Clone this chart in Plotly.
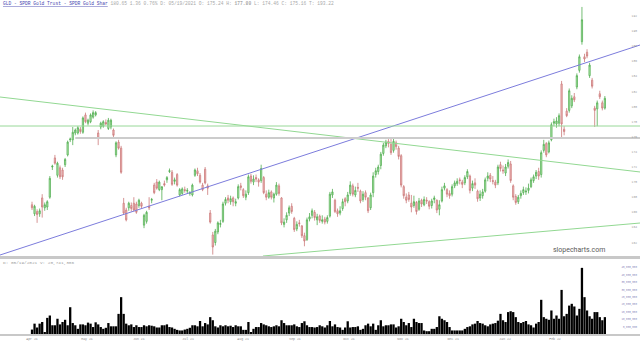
import plotly.graph_objects as go

TITLE = "GLD - SPDR Gold Trust - SPDR Gold Shar"
QUOTE = "180.65 1.36 0.76% D: 05/19/2021 O: 175.24 H: <b>177.80</b> L: 174.46 C: 175.16 T: 193.22"
VOL_HEADER = "D: 05/19/2021 V: 20,741,306"
WATERMARK = "slopecharts.com"

open_ = [
    167.0, 165.8, 166.1, 165.8, 167.9, 166.6, 166.7, 168.0, 172.0, 173.2,
    170.9, 171.9, 171.6, 172.3, 173.6, 175.6, 175.6, 176.5, 176.5, 177.0,
    176.6, 178.9, 177.8, 178.0, 178.6, 178.9, 176.5, 177.3, 177.4, 177.9,
    177.1, 177.3, 176.9, 173.6, 175.3, 174.5, 167.2, 166.3, 166.6, 166.9,
    167.2, 167.1, 166.9, 167.2, 164.3, 164.8, 166.8, 167.6, 169.6, 170.0,
    169.0, 169.0, 169.8, 170.3, 171.4, 171.3, 170.1, 171.0, 168.3, 168.5,
    169.0, 168.8, 168.5, 168.3, 170.9, 171.5, 170.9, 169.6, 171.7, 169.5,
    165.9, 163.0, 162.0, 163.4, 164.4, 164.8, 167.2, 167.9, 167.4, 167.9,
    167.2, 167.9, 169.5, 169.0, 168.0, 168.6, 170.8, 170.0, 170.6, 170.3,
    170.2, 170.6, 168.4, 168.0, 168.7, 167.9, 168.4, 169.5, 167.9, 164.4,
    165.0, 165.9, 166.8, 165.2, 163.8, 164.6, 164.2, 162.9, 162.4, 165.1,
    165.6, 166.0, 165.0, 165.5, 164.8, 165.1, 164.8, 165.5, 168.3, 167.6,
    166.2, 165.9, 166.5, 167.8, 167.5, 168.5, 169.5, 168.3, 169.3, 168.8,
    167.7, 168.6, 167.9, 166.6, 168.6, 171.0, 171.4, 172.2, 173.8, 174.8,
    175.4, 175.0, 174.2, 175.2, 174.5, 173.5, 169.4, 168.0, 168.3, 167.2,
    166.9, 167.3, 166.4, 167.6, 167.0, 167.6, 167.4, 166.9, 167.7, 167.6,
    166.4, 167.5, 169.2, 169.0, 168.5, 168.4, 169.5, 169.8, 170.3, 170.0,
    169.9, 170.7, 170.8, 169.2, 169.9, 168.8, 167.9, 168.2, 168.8, 170.5,
    170.9, 170.2, 170.0, 169.9, 172.3, 171.6, 171.2, 172.1, 172.4, 169.5,
    168.1, 167.4, 168.2, 168.6, 168.7, 168.9, 169.4, 170.2, 170.8, 171.4,
    171.0, 174.2, 175.1, 174.0, 175.6, 177.8, 177.7, 177.8, 183.0, 177.0,
    179.4, 179.5, 180.1, 181.3, 182.6, 184.8, 188.6, 186.6, 187.2, 184.1,
    183.5, 179.8, 179.7, 181.7, 180.5, 179.8,
]
high = [
    167.4, 167.0, 166.4, 166.5, 168.4, 167.3, 167.6, 170.8, 172.3, 173.6,
    172.7, 172.2, 171.9, 173.2, 175.5, 175.9, 177.3, 177.1, 177.4, 177.3,
    178.7, 179.2, 178.4, 179.1, 179.5, 179.4, 176.9, 178.0, 178.2, 178.3,
    178.5, 178.4, 177.1, 175.4, 175.6, 174.8, 167.9, 166.6, 167.4, 167.3,
    168.0, 167.4, 167.8, 167.4, 165.8, 166.2, 168.0, 167.9, 169.9, 170.4,
    170.2, 169.4, 170.2, 170.8, 171.8, 171.6, 170.6, 171.2, 169.2, 169.3,
    169.4, 169.2, 168.8, 169.8, 171.8, 171.9, 171.2, 169.9, 172.0, 169.8,
    166.3, 163.4, 163.8, 164.8, 165.0, 167.4, 168.0, 168.3, 168.2, 168.1,
    167.8, 169.7, 169.9, 169.2, 168.9, 171.0, 171.1, 170.9, 171.0, 170.5,
    172.3, 170.8, 168.9, 169.0, 168.9, 168.6, 170.0, 169.8, 168.0, 165.2,
    166.0, 166.9, 167.2, 165.4, 164.8, 165.0, 164.3, 163.3, 165.3, 165.9,
    166.5, 166.3, 165.8, 165.7, 165.6, 165.4, 165.6, 168.7, 169.1, 167.8,
    166.5, 166.8, 167.8, 168.0, 168.7, 170.1, 169.8, 169.4, 169.9, 169.0,
    168.8, 168.9, 168.0, 168.6, 171.3, 171.9, 172.3, 174.0, 175.2, 175.6,
    175.7, 175.9, 175.8, 175.5, 174.8, 173.7, 169.6, 168.5, 168.7, 168.3,
    168.2, 167.5, 167.9, 167.8, 168.1, 168.0, 167.6, 167.8, 168.2, 167.7,
    167.6, 169.4, 169.9, 169.2, 168.9, 169.7, 170.2, 170.5, 170.6, 170.3,
    170.9, 171.7, 171.0, 170.2, 170.5, 169.0, 168.9, 169.1, 170.6, 171.3,
    171.2, 170.8, 170.3, 172.3, 172.7, 172.2, 172.4, 173.0, 172.8, 169.7,
    168.4, 168.3, 168.9, 169.4, 169.3, 169.8, 170.6, 171.0, 171.6, 171.9,
    174.2, 175.6, 175.3, 175.5, 177.9, 178.4, 178.6, 179.1, 183.4, 177.4,
    179.8, 182.4, 181.5, 181.8, 184.4, 186.9, 193.2, 187.0, 187.6, 185.8,
    183.8, 180.1, 180.8, 182.1, 180.8, 181.4,
]
low = [
    166.3, 165.5, 164.6, 165.4, 165.3, 166.2, 166.3, 167.8, 171.6, 172.3,
    170.6, 170.4, 170.3, 172.0, 173.4, 175.3, 174.9, 176.2, 176.3, 176.4,
    176.4, 177.8, 177.5, 177.8, 178.4, 178.7, 174.9, 177.0, 177.2, 177.5,
    176.9, 177.0, 175.9, 173.3, 174.3, 171.1, 165.7, 164.8, 166.2, 166.1,
    166.1, 165.8, 166.6, 166.5, 163.9, 164.5, 166.3, 167.2, 168.4, 169.0,
    168.8, 167.6, 169.4, 169.9, 171.2, 169.5, 169.7, 169.4, 168.1, 168.3,
    168.6, 168.5, 168.2, 168.1, 170.7, 170.8, 169.8, 168.8, 169.7, 168.3,
    164.5, 160.4, 161.6, 163.1, 164.0, 164.6, 166.9, 167.2, 167.0, 166.8,
    166.8, 167.7, 168.9, 167.9, 167.6, 168.3, 169.8, 169.6, 170.0, 169.4,
    169.9, 168.4, 167.6, 167.8, 167.7, 167.3, 168.2, 168.2, 164.3, 164.0,
    164.6, 165.5, 165.8, 163.4, 163.5, 164.1, 162.6, 161.5, 162.2, 164.8,
    165.2, 164.9, 164.3, 164.6, 164.5, 164.4, 164.5, 165.3, 167.9, 165.9,
    165.4, 165.6, 166.2, 166.8, 167.2, 168.2, 168.1, 168.0, 168.7, 167.2,
    167.4, 167.6, 165.9, 166.3, 168.0, 170.6, 171.0, 171.7, 173.5, 174.5,
    174.6, 173.6, 173.9, 174.3, 173.0, 169.3, 167.8, 167.2, 167.4, 166.0,
    166.6, 165.7, 166.2, 166.7, 166.8, 167.1, 166.4, 166.5, 167.2, 165.9,
    165.6, 167.3, 168.9, 168.0, 167.8, 168.1, 169.2, 169.5, 169.7, 169.2,
    169.6, 170.4, 168.5, 168.8, 169.1, 167.4, 167.5, 167.8, 168.6, 170.1,
    170.0, 169.7, 169.2, 169.6, 171.4, 171.1, 170.8, 171.8, 169.9, 167.6,
    167.0, 167.1, 167.8, 168.3, 168.3, 168.5, 169.2, 169.9, 170.4, 170.3,
    170.6, 173.9, 173.3, 173.8, 175.4, 177.4, 177.2, 177.4, 175.8, 176.2,
    178.6, 179.2, 179.8, 180.6, 182.3, 184.5, 188.2, 185.9, 186.4, 183.8,
    182.4, 177.3, 177.4, 181.0, 179.5, 179.6,
]
close = [
    166.6, 166.8, 165.7, 166.2, 166.7, 167.0, 167.4, 170.5, 172.1, 172.5,
    172.5, 170.7, 170.7, 173.0, 175.3, 175.7, 176.6, 176.9, 177.2, 176.7,
    178.5, 178.0, 178.2, 178.9, 179.2, 179.2, 175.8, 177.8, 178.0, 177.7,
    178.2, 178.2, 176.2, 175.2, 174.5, 171.3, 165.9, 165.0, 167.2, 166.5,
    166.3, 166.0, 167.6, 166.8, 165.6, 166.0, 166.6, 167.7, 168.6, 169.2,
    170.0, 169.4, 169.6, 170.6, 171.5, 169.7, 170.3, 169.6, 169.0, 169.1,
    168.9, 168.9, 168.6, 169.6, 171.6, 171.1, 170.0, 169.0, 169.9, 169.2,
    164.7, 161.4, 163.5, 164.6, 164.5, 167.1, 167.7, 167.6, 167.8, 167.4,
    167.4, 169.4, 169.3, 168.2, 168.4, 170.7, 170.1, 170.4, 170.4, 170.0,
    171.8, 168.6, 168.0, 168.6, 168.0, 168.4, 169.6, 168.5, 164.6, 164.7,
    165.6, 166.6, 166.1, 163.7, 164.4, 164.5, 162.9, 162.2, 165.0, 165.4,
    166.2, 165.3, 165.4, 164.9, 165.0, 164.7, 165.3, 168.4, 168.7, 166.1,
    165.8, 166.2, 167.4, 167.4, 168.3, 169.6, 168.4, 168.9, 169.2, 167.5,
    168.4, 168.0, 166.2, 168.3, 170.8, 171.5, 172.0, 173.7, 174.9, 175.3,
    175.1, 173.9, 175.4, 174.7, 173.4, 169.6, 168.2, 167.6, 167.7, 166.7,
    167.4, 166.1, 167.5, 167.1, 167.7, 167.5, 166.8, 167.5, 167.9, 166.3,
    167.0, 169.0, 169.5, 168.4, 168.2, 169.4, 169.9, 170.1, 170.2, 169.7,
    170.6, 171.4, 168.9, 169.8, 169.6, 167.8, 168.4, 168.7, 170.3, 170.8,
    170.4, 170.1, 169.6, 172.0, 171.8, 171.5, 172.0, 172.6, 170.2, 168.0,
    167.3, 168.0, 168.5, 169.0, 168.8, 169.2, 170.3, 170.7, 171.3, 170.8,
    173.9, 175.0, 173.6, 175.2, 177.6, 178.0, 178.1, 178.8, 177.7, 176.7,
    178.8, 182.1, 181.1, 180.9, 184.1, 186.6, 191.5, 186.3, 186.7, 185.5,
    182.7, 179.5, 180.5, 181.3, 179.8, 181.1,
]
# volume in millions of shares
volume_m = [
    3.0, 7.0, 4.4, 7.0, 8.1, 1.2, 10.9, 12.5, 5.9, 5.9,
    10.3, 6.5, 8.1, 9.6, 5.9, 18.1, 7.4, 5.9, 3.5, 6.5,
    6.5, 5.9, 7.7, 7.0, 4.7, 7.9, 6.5, 4.7, 3.5, 4.2,
    7.4, 5.2, 5.2, 5.2, 13.6, 24.9, 13.6, 7.0, 5.9, 6.5,
    4.7, 5.9, 4.7, 4.7, 5.9, 5.2, 5.9, 5.6, 5.2, 4.4,
    4.4, 5.9, 5.9, 6.5, 4.7, 4.4, 3.5, 2.8, 2.4, 2.4,
    3.0, 3.5, 4.2, 5.9, 5.9, 5.2, 8.8, 5.2, 7.4, 6.5,
    11.4, 9.3, 5.2, 4.4, 5.9, 5.2, 5.9, 5.2, 5.6, 4.7,
    5.9, 5.2, 5.2, 2.8, 2.8, 8.1, 1.3, 3.5, 4.7, 4.7,
    7.4, 6.5, 5.9, 5.2, 4.7, 5.2, 5.9, 5.2, 9.3, 7.4,
    5.9, 5.9, 5.9, 6.5, 5.2, 4.7, 7.4, 8.6, 5.9, 4.7,
    4.7, 4.4, 4.7, 5.9, 5.2, 4.4, 5.9, 8.8, 5.2, 6.5,
    4.7, 4.4, 2.8, 4.4, 8.6, 4.4, 4.7, 4.7, 5.2, 2.8,
    3.5, 5.9, 7.0, 5.2, 7.0, 2.8, 5.9, 9.3, 5.2, 5.9,
    5.9, 6.5, 6.5, 4.4, 5.2, 10.3, 8.1, 5.9, 7.4, 4.7,
    10.3, 8.1, 7.4, 7.4, 2.4, 1.9, 1.9, 3.5, 3.5, 4.7,
    12.0, 10.3, 9.3, 8.1, 4.7, 2.4, 2.4, 2.4, 2.4, 2.4,
    3.5, 4.7, 5.2, 6.5, 7.0, 8.8, 7.4, 7.0, 5.9, 5.2,
    6.5, 7.0, 7.4, 9.0, 13.6, 9.3, 8.1, 14.8, 15.4, 14.8,
    11.4, 8.1, 7.4, 8.1, 8.8, 6.5, 5.9, 4.4, 7.0, 8.1,
    23.1, 11.4, 10.3, 9.6, 15.9, 10.3, 12.5, 10.3, 29.8, 12.0,
    13.6, 19.2, 20.4, 18.6, 12.5, 17.0, 44.7, 24.9, 15.9, 12.0,
    10.3, 14.8, 14.8, 11.4, 9.3, 11.4,
]
bars = list(range(len(close)))

month_pos = [0, 21.6, 42.0, 61.3, 82.9, 103.3, 124.5, 145.7, 165.4, 185.8, 205.4]
month_labels = ["Apr 21", "May 21", "Jun 21", "Jul 21", "Aug 21", "Sep 21",
                "Oct 21", "Nov 21", "Dec 21", "Jan 22", "Feb 22"]

price_ticks = [162, 164, 166, 168, 170, 172, 174, 176, 178, 180, 182, 184, 186, 188, 190, 192]
vol_ticks = [5, 10, 15, 20, 25, 30, 35, 40, 45]
vol_tick_labels = ["5,000,000", "10,000,000", "15,000,000", "20,000,000", "25,000,000",
                   "30,000,000", "35,000,000", "40,000,000", "45,000,000"]

# drawn trend lines / levels: (bar, price) endpoints
falling_line_x = [-12.57, 238.8]
falling_line_y = [181.27, 171.34]
rising_line_x = [-12.57, 238.8]
rising_line_y = [160.34, 188.16]
lower_line_x = [90.7, 238.8]
lower_line_y = [160.21, 164.58]
green_level_x = [-12.57, 238.8]
green_level_y = [177.43, 177.43]
grey_level_x = [17, 238.8]
grey_level_y = [175.84, 175.84]

X_RANGE = [-12.57, 238.8]

fig = go.Figure()

fig.add_trace(go.Candlestick(
    x=bars, open=open_, high=high, low=low, close=close,
    xaxis="x", yaxis="y",
    increasing=dict(line=dict(color="#52ad52", width=0.8), fillcolor="#c4f2bc"),
    decreasing=dict(line=dict(color="#cc7a7a", width=0.8), fillcolor="#f5c4c4"),
    whiskerwidth=0, hoverinfo="skip", showlegend=False,
))

for lx, ly, col, w in [
    (falling_line_x, falling_line_y, "#92d892", 1),
    (rising_line_x, rising_line_y, "#7c7cdc", 1),
    (lower_line_x, lower_line_y, "#92d892", 1),
    (green_level_x, green_level_y, "#98d898", 1),
    (grey_level_x, grey_level_y, "#cccccc", 2),
]:
    fig.add_trace(go.Scatter(x=lx, y=ly, mode="lines", line=dict(color=col, width=w),
                             xaxis="x", yaxis="y", hoverinfo="skip", showlegend=False))

fig.add_trace(go.Bar(
    x=bars, y=volume_m, xaxis="x2", yaxis="y2",
    marker=dict(color="#000000", line=dict(width=0)),
    hoverinfo="skip", showlegend=False,
))

fig.update_layout(
    width=640, height=345,
    margin=dict(l=0, r=0, t=0, b=11),
    paper_bgcolor="white", plot_bgcolor="white",
    bargap=0.1,
    xaxis=dict(domain=[0, 1], range=X_RANGE, anchor="y", showticklabels=False,
               showgrid=False, zeroline=False, showline=True, linecolor="#c8c8c8",
               linewidth=2.5, ticks="", rangeslider=dict(visible=False)),
    xaxis2=dict(domain=[0, 1], range=X_RANGE, anchor="y2", matches="x",
                tickmode="array", tickvals=month_pos, ticktext=month_labels,
                tickfont=dict(family="Liberation Mono", size=3.2, color="#888888"),
                showgrid=False, zeroline=False, showline=True, linecolor="#c8c8c8",
                linewidth=1.5, ticks=""),
    yaxis=dict(domain=[0.2335, 1], range=[160.21, 194.12], side="right",
               ticklabelposition="inside", tickmode="array", tickvals=price_ticks,
               tickfont=dict(family="Liberation Mono", size=3, color="#999999"),
               showgrid=False, zeroline=False, ticks="", showline=False),
    yaxis2=dict(domain=[0, 0.2275], range=[0, 51.35], side="right",
                ticklabelposition="inside", tickmode="array", tickvals=vol_ticks,
                ticktext=vol_tick_labels,
                tickfont=dict(family="Liberation Mono", size=2.6, color="#8888bb"),
                showgrid=False, zeroline=False, ticks="", showline=False),
    annotations=[
        dict(x=0, y=1, xref="paper", yref="paper", xanchor="left", yanchor="top",
             xshift=1, yshift=1, showarrow=False,
             text=f"<span style='color:#4848b0'><u>{TITLE}</u></span> "
                  f"<span style='color:#a8a8a8'>{QUOTE}</span>",
             font=dict(family="Liberation Mono", size=4.6, color="#a8a8a8")),
        dict(x=0, y=0.2275, xref="paper", yref="paper", xanchor="left", yanchor="top",
             xshift=1, yshift=0, showarrow=False, text=VOL_HEADER,
             font=dict(family="Liberation Mono", size=4.4, color="#a0a0a0")),
        dict(x=607 / 640, y=0.2335, xref="paper", yref="paper", xanchor="right",
             yanchor="bottom", yshift=0, showarrow=False, text=WATERMARK,
             font=dict(family="Roboto", size=7, color="#5a5a5a")),
    ],
)

fig.write_html("out.html")
